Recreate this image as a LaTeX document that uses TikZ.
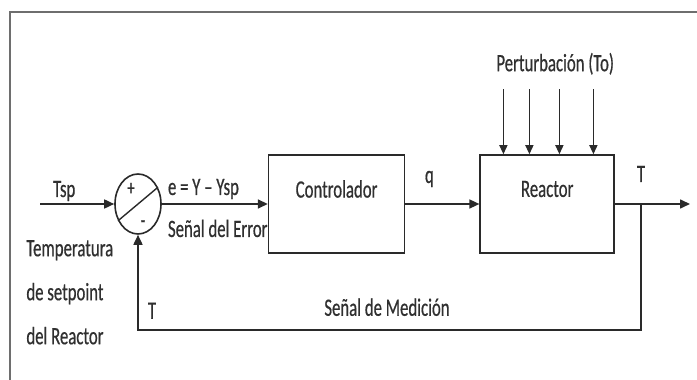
\documentclass[tikz,border=0pt]{standalone}
\usepackage{fontspec}
\setmainfont{Carlito}[FakeStretch=0.67, FakeBold=0.5]
\usepackage{tikz}
\usetikzlibrary{positioning, arrows.meta, shapes.geometric}
\usepackage{xcolor}

\definecolor{linegray}{HTML}{2A2A2A}
\definecolor{framegray}{HTML}{6E6E6E}
\definecolor{textgray}{HTML}{303030}

\begin{document}
\begin{tikzpicture}[
        x=1pt, y=1pt,
        font=\fontsize{25}{44}\selectfont,
        block/.style={rectangle, draw=linegray, line width=1.6pt,
                      minimum height=98pt, inner sep=0pt},
        sumnode/.style={ellipse, draw=linegray, line width=1.6pt,
                        minimum width=46pt, minimum height=60pt, inner sep=0pt},
        lbl/.style={inner sep=0pt, anchor=base, text=textgray},
        sign/.style={inner sep=0pt, text=textgray, font=\fontsize{22}{22}\selectfont},
        arrow/.style={-{Triangle[length=10pt,width=9pt]}, line width=1.6pt,
                      draw=linegray},
        darrow/.style={-{Triangle[length=9pt,width=8pt]}, line width=1.4pt,
                       draw=linegray}
    ]

    \useasboundingbox (0,0) rectangle (697,380);
    \draw[draw=framegray, line width=2pt] (10,0) -- (10,368) -- (697,368);

    %% summing junction
    \node[sumnode] (sum) at (138,176) {};
    \draw[line width=1.4pt, draw=linegray] (sum.220) -- (sum.40);
    \node[sign] (plus)  at ([shift={(-7,15)}]sum.center) {+};
    \node[sign] (minus) at ([shift={(5,-20)}]sum.center) {-};

    %% blocks
    \node[block, minimum width=136pt, right=106pt of sum,
          label={[yshift=15pt, text=textgray]center:Controlador}] (ctrl) {};
    \node[block, minimum width=134pt, right=74pt of ctrl,
          label={[yshift=15pt, text=textgray]center:Reactor}] (reactor) {};

    %% free ends
    \coordinate[left=74pt of sum] (tin);
    \coordinate[right=26pt of reactor] (branch);
    \coordinate[right=75pt of reactor] (tout);
    \coordinate[below=95pt of sum] (fbcorner);

    \draw[arrow] (tin) -- (sum);
    \draw[arrow] (sum) -- (ctrl);
    \draw[arrow] (ctrl) -- (reactor);
    \draw[arrow] (reactor) -- (tout);
    \draw[arrow] (branch) |- (fbcorner) -- (sum);

    %% disturbance
    \foreach \dx [count=\i] in {24,50,80,114} {
        \coordinate (pin\i) at ([shift={(\dx,65)}]reactor.north west);
        \draw[darrow] (pin\i) -- (pin\i |- reactor.north);
    }
    \node[lbl] (dist) at ([shift={(8,83)}]reactor.north) {Perturbación (To)};

    %% labels
    \node[lbl] (tsp) at ([shift={(24,7)}]tin) {Tsp};
    \node[lbl, anchor=base west] (err) at ([shift={(6,9)}]sum.east) {e = Y -- Ysp};
    \node[lbl, anchor=base west] (errname) at ([shift={(6,-33)}]sum.east)
          {Señal del Error};
    \node[lbl, anchor=north west, align=left] (setpoint)
          at ([shift={(-14,-36)}]tin) {Temperatura\\de setpoint\\del Reactor};
    \node[lbl] (q) at ([shift={(24,21)}]ctrl.east) {q};
    \node[lbl] (tout lbl) at ([shift={(0,22)}]branch) {T};
    \node[lbl] (tfb) at ([shift={(14,11)}]fbcorner) {T};
    \node[lbl] (meas) at ([shift={(249,14)}]fbcorner) {Señal de Medición};

\end{tikzpicture}
\end{document}
